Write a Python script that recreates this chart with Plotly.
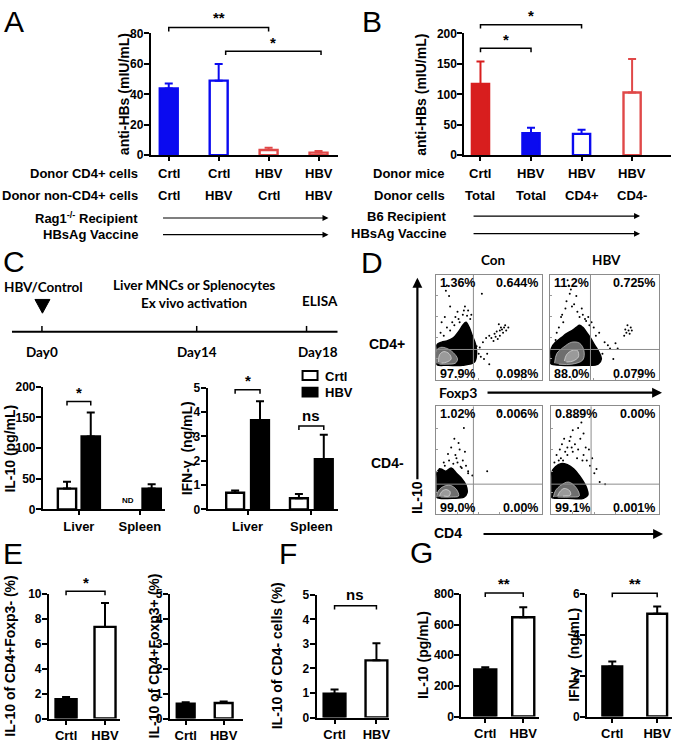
import plotly.graph_objects as go

W, H = 680, 752
ARIAL = 'Liberation Sans, Arial, Helvetica, sans-serif'
CALI = 'Lato, Open Sans, sans-serif'

# ------------------------------------------------------------------ data
A_donor_cd4 = ['Crtl', 'Crtl', 'HBV', 'HBV']
A_donor_noncd4 = ['Crtl', 'HBV', 'Crtl', 'HBV']
A_mean = [43.8, 49.0, 3.4, 1.7]
A_err = [3.3, 11.0, 1.5, 1.1]
A_fill = ['#0a0af0', 'white', 'white', 'white']
A_edge = ['#0a0af0', '#0a0af0', '#e04848', '#e04848']

B_donor_mice = ['Crtl', 'HBV', 'HBV', 'HBV']
B_donor_cells = ['Total', 'Total', 'CD4+', 'CD4-']
B_mean = [117, 36, 35, 103]
B_err = [37, 9, 7, 55]
B_fill = ['#d81e1e', '#0a0af0', 'white', 'white']
B_edge = ['#d81e1e', '#0a0af0', '#0a0af0', '#e04848']

C_groups = ['Liver', 'Spleen']
C_il10_crtl = [34, None]
C_il10_crtl_err = [11, 0]
C_il10_hbv = [119, 34]
C_il10_hbv_err = [39, 7]
C_ifn_crtl = [0.69, 0.46]
C_ifn_crtl_err = [0.09, 0.18]
C_ifn_hbv = [3.67, 2.07]
C_ifn_hbv_err = [0.78, 1.0]

EG_groups = ['Crtl', 'HBV']
E1_mean = [1.55, 7.35]
E1_err = [0.18, 1.92]
E2_mean = [0.59, 0.62]
E2_err = [0.06, 0.06]
F_mean = [0.97, 2.33]
F_err = [0.17, 0.70]
G1_mean = [307, 648]
G1_err = [15, 64]
G2_mean = [2.45, 5.03]
G2_err = [0.24, 0.35]

# flow cytometry quadrant percentages: [UL, UR, LL, LR]
D_pct = [['1.36%', '0.644%', '97.9%', '0.098%'],
         ['11.2%', '0.725%', '88.0%', '0.079%'],
         ['1.02%', '0.006%', '99.0%', '0.00%'],
         ['0.889%', '0.00%', '99.1%', '0.001%']]
D_qx = [0.35, 0.37, 0.35, 0.37]
D_qy = [0.29, 0.29, 0.28, 0.28]

# dense-region outlines (black) and inner contours (grey)
D_blob_x = [
    [0, 0, 0.05, 0.1, 0.16, 0.21, 0.25, 0.28, 0.31, 0.34, 0.37, 0.38, 0.36, 0.25, 0.1, 0],
    [0, 0.01, 0.05, 0.1, 0.15, 0.2, 0.24, 0.27, 0.3, 0.33, 0.37, 0.41, 0.45, 0.47, 0.44, 0.3, 0.1, 0],
    [0, 0, 0.04, 0.09, 0.14, 0.19, 0.24, 0.28, 0.29, 0.26, 0.15, 0.03, 0],
    [0, 0, 0.04, 0.09, 0.15, 0.21, 0.26, 0.3, 0.33, 0.34, 0.3, 0.15, 0.03, 0]]
D_blob_y = [
    [0.15, 0.33, 0.36, 0.37, 0.4, 0.46, 0.52, 0.55, 0.5, 0.42, 0.34, 0.26, 0.17, 0.14, 0.14, 0.15],
    [0.16, 0.3, 0.36, 0.4, 0.44, 0.47, 0.5, 0.52, 0.5, 0.46, 0.4, 0.33, 0.26, 0.2, 0.15, 0.14, 0.14, 0.16],
    [0.16, 0.38, 0.42, 0.4, 0.43, 0.38, 0.33, 0.27, 0.2, 0.16, 0.15, 0.15, 0.16],
    [0.16, 0.38, 0.44, 0.47, 0.46, 0.42, 0.36, 0.3, 0.24, 0.18, 0.15, 0.15, 0.15, 0.16]]
D_cont1_x = [
    [0, 0, 0.04, 0.1, 0.16, 0.2, 0.18, 0.1, 0.03],
    [0.04, 0.06, 0.12, 0.2, 0.27, 0.31, 0.3, 0.2, 0.08],
    [0, 0.02, 0.07, 0.13, 0.19, 0.21, 0.14, 0.04],
    [0.02, 0.04, 0.09, 0.16, 0.23, 0.26, 0.18, 0.06]]
D_cont1_y = [
    [0.16, 0.28, 0.31, 0.3, 0.26, 0.2, 0.16, 0.15, 0.15],
    [0.16, 0.25, 0.31, 0.36, 0.35, 0.28, 0.19, 0.15, 0.15],
    [0.16, 0.22, 0.26, 0.27, 0.23, 0.17, 0.16, 0.16],
    [0.16, 0.22, 0.27, 0.3, 0.25, 0.17, 0.16, 0.16]]
D_cont2_x = [
    [0.02, 0.03, 0.07, 0.12, 0.14, 0.1, 0.05],
    [0.13, 0.15, 0.2, 0.25, 0.26, 0.21, 0.15],
    [0.03, 0.05, 0.09, 0.13, 0.12, 0.07],
    [0.06, 0.08, 0.12, 0.17, 0.18, 0.11]]
D_cont2_y = [
    [0.17, 0.24, 0.27, 0.25, 0.2, 0.17, 0.16],
    [0.18, 0.24, 0.28, 0.28, 0.22, 0.18, 0.17],
    [0.17, 0.21, 0.23, 0.21, 0.17, 0.17],
    [0.17, 0.21, 0.24, 0.22, 0.18, 0.17]]
# sparse events
D_pts_x = [
    [0.05, 0.08, 0.1, 0.12, 0.15, 0.18, 0.2, 0.22, 0.25, 0.27, 0.3, 0.32, 0.28, 0.24, 0.1, 0.09, 0.13, 0.17,
     0.21, 0.26, 0.29, 0.33, 0.36, 0.41, 0.44, 0.47, 0.5, 0.52, 0.55, 0.57, 0.58, 0.6, 0.6, 0.61, 0.62, 0.63,
     0.64, 0.65, 0.66, 0.68, 0.59, 0.56, 0.54, 0.45, 0.4, 0.48, 0.42, 0.38, 0.5, 0.04, 0.07, 0.13, 0.43],
    [0.15, 0.18, 0.17, 0.2, 0.25, 0.3, 0.35, 0.38, 0.4, 0.45, 0.1, 0.12, 0.08, 0.14, 0.22, 0.27, 0.32, 0.36,
     0.42, 0.5, 0.53, 0.55, 0.6, 0.62, 0.68, 0.7, 0.72, 0.74, 0.71, 0.73, 0.69, 0.75, 0.16, 0.19, 0.05, 0.24,
     0.29, 0.33, 0.48, 0.58, 0.06, 0.11],
    [0.05, 0.08, 0.12, 0.15, 0.18, 0.2, 0.22, 0.25, 0.28, 0.3, 0.1, 0.17, 0.26, 0.3, 0.34, 0.14, 0.48, 0.6,
     0.07, 0.19, 0.23, 0.11, 0.03, 0.27, 0.16, 0.21, 0.24],
    [0.05, 0.08, 0.1, 0.12, 0.15, 0.18, 0.2, 0.22, 0.25, 0.28, 0.3, 0.15, 0.2, 0.25, 0.3, 0.33, 0.36, 0.4,
     0.35, 0.23, 0.45, 0.5, 0.07, 0.13, 0.17, 0.27, 0.32, 0.38, 0.42, 0.09, 0.19, 0.24, 0.29, 0.03, 0.11]]
D_pts_y = [
    [0.55, 0.6, 0.5, 0.8, 0.55, 0.6, 0.65, 0.55, 0.62, 0.7, 0.66, 0.58, 0.48, 0.45, 0.9, 0.85, 0.7, 0.52,
     0.58, 0.66, 0.61, 0.62, 0.34, 0.31, 0.36, 0.4, 0.42, 0.4, 0.44, 0.46, 0.39, 0.47, 0.42, 0.5, 0.48, 0.45,
     0.5, 0.52, 0.47, 0.5, 0.53, 0.41, 0.37, 0.2, 0.25, 0.25, 0.22, 0.32, 0.15, 0.45, 0.42, 0.47, 0.82],
    [0.75, 0.82, 0.9, 0.7, 0.65, 0.62, 0.6, 0.55, 0.5, 0.45, 0.6, 0.55, 0.5, 0.68, 0.72, 0.6, 0.58, 0.52,
     0.42, 0.36, 0.33, 0.3, 0.35, 0.3, 0.42, 0.45, 0.47, 0.5, 0.52, 0.44, 0.48, 0.47, 0.95, 0.86, 0.38, 0.8,
     0.68, 0.56, 0.25, 0.2, 0.45, 0.62],
    [0.4, 0.45, 0.5, 0.42, 0.55, 0.48, 0.6, 0.5, 0.45, 0.4, 0.38, 0.7, 0.8, 0.38, 0.36, 0.62, 0.4, 0.95,
     0.48, 0.52, 0.44, 0.56, 0.42, 0.58, 0.47, 0.66, 0.43],
    [0.55, 0.6, 0.65, 0.7, 0.62, 0.72, 0.78, 0.65, 0.8, 0.85, 0.75, 0.55, 0.58, 0.6, 0.55, 0.5, 0.45, 0.38,
     0.6, 0.9, 0.3, 0.28, 0.5, 0.58, 0.68, 0.7, 0.62, 0.52, 0.42, 0.52, 0.62, 0.52, 0.5, 0.48, 0.5]]

# ------------------------------------------------------------------ helpers
fig = go.Figure()
annotations = []
shapes = []
layout = {}

def px(x):
    return x / W

def py(y):
    return 1 - y / H

def bold(size, family=ARIAL, color='black'):
    return dict(family=family, size=size, color=color, weight='bold')

specs = {}

def add_axes(n, name, xl, xr, yt, yb, xrange, yrange, ytickvals=None, xtickvals=None,
             xticktext=None, flow=False):
    xk = 'xaxis' if n == 1 else f'xaxis{n}'
    yk = 'yaxis' if n == 1 else f'yaxis{n}'
    xid = 'x' if n == 1 else f'x{n}'
    yid = 'y' if n == 1 else f'y{n}'
    specs[name] = dict(xl=xl, xr=xr, yt=yt, yb=yb, xrange=xrange, yrange=yrange, x=xid, y=yid)
    if flow:
        common = dict(showline=True, mirror=True, linecolor='#8c8c8c', linewidth=1, ticks='inside',
                      ticklen=2, tickcolor='#9a9a9a', tickwidth=1, showticklabels=False,
                      showgrid=False, zeroline=False, fixedrange=True)
        layout[xk] = dict(domain=[px(xl), px(xr)], range=xrange, anchor=yid,
                          tickvals=[0.2, 0.4, 0.6, 0.8], **common)
        layout[yk] = dict(domain=[py(yb), py(yt)], range=yrange, anchor=xid,
                          tickvals=[0.2, 0.4, 0.6, 0.8], **common)
        return
    common = dict(showline=True, linecolor='black', linewidth=2, ticks='outside',
                  tickwidth=2, tickcolor='black', showgrid=False, zeroline=False, fixedrange=True)
    layout[xk] = dict(domain=[px(xl), px(xr)], range=xrange, anchor=yid, tickvals=xtickvals,
                      ticktext=xticktext, showticklabels=xticktext is not None, ticklen=4,
                      tickfont=bold(13), **common)
    layout[yk] = dict(domain=[py(yb), py(yt)], range=yrange, anchor=xid, tickvals=ytickvals,
                      ticklen=5, tickfont=bold(12), ticklabelstandoff=-2, **common)

def to_paper(name, xv, yv):
    s = specs[name]
    fx = (xv - s['xrange'][0]) / (s['xrange'][1] - s['xrange'][0])
    fy = (yv - s['yrange'][0]) / (s['yrange'][1] - s['yrange'][0])
    xpix = s['xl'] + fx * (s['xr'] - s['xl'])
    ypix = s['yb'] - fy * (s['yb'] - s['yt'])
    return xpix, ypix

def bar(name, xv, yv, err, fill, edge, width, offset=None):
    s = specs[name]
    kw = dict(x=[xv], y=[yv], width=width, xaxis=s['x'], yaxis=s['y'],
              marker=dict(color=fill, line=dict(color=edge, width=2.4)),
              error_y=dict(type='data', symmetric=False, array=[err], arrayminus=[0],
                           color=edge, thickness=2, width=4),
              showlegend=False, hoverinfo='skip')
    if offset is not None:
        kw['offset'] = offset
    fig.add_trace(go.Bar(**kw))

def bracket(name, x0, x1, yv, label, size=15, drop=4, gap=8):
    a, yy = to_paper(name, x0, yv)
    b, _ = to_paper(name, x1, yv)
    path = (f'M {px(a)},{py(yy + drop)} L {px(a)},{py(yy)} L {px(b)},{py(yy)} '
            f'L {px(b)},{py(yy + drop)}')
    shapes.append(dict(type='path', xref='paper', yref='paper', path=path,
                       line=dict(color='black', width=1.5)))
    annotations.append(dict(x=px((a + b) / 2), y=py(yy - gap), xref='paper', yref='paper',
                            text=label, showarrow=False, font=bold(size), xanchor='center',
                            yanchor='middle'))

def text(x, y, t, size=13, xanchor='center', font=None, angle=0, yanchor='middle'):
    annotations.append(dict(x=px(x), y=py(y), xref='paper', yref='paper', text=t,
                            showarrow=False, font=font or bold(size), xanchor=xanchor,
                            yanchor=yanchor, textangle=angle))

def ytitle(x, y, t, size=14):
    text(x, y, t, font=bold(size), angle=-90)

def arrow(x0, y0, x1, y1, width=1.2, head=2, size=1.0):
    annotations.append(dict(x=px(x1), y=py(y1), xref='paper', yref='paper', ax=x0 - x1,
                            ay=y0 - y1, axref='pixel', ayref='pixel', text='', showarrow=True,
                            arrowhead=head, arrowsize=size, arrowwidth=width, arrowcolor='black'))

def line(x0, y0, x1, y1, width=2, color='black'):
    shapes.append(dict(type='line', xref='paper', yref='paper', x0=px(x0), y0=py(y0),
                       x1=px(x1), y1=py(y1), line=dict(color=color, width=width)))

# ------------------------------------------------------------------ panel A
add_axes(1, 'A', 151, 338, 27, 151, [-0.36, 3.38], [0, 80], ytickvals=[0, 20, 40, 60, 80],
         xtickvals=[0, 1, 2, 3])
for i in range(4):
    bar('A', i, A_mean[i], A_err[i], A_fill[i], A_edge[i], 0.36)
bracket('A', 0, 2, 83.9, '**', gap=10)
bracket('A', 1.14, 3.05, 68.4, '*', gap=9)
text(140, 170, 'Donor CD4+ cells', xanchor='right')
text(140, 192, 'Donor non-CD4+ cells', xanchor='right')
for i in range(4):
    cx, _ = to_paper('A', i, 0)
    text(cx, 170, A_donor_cd4[i])
    text(cx, 192, A_donor_noncd4[i])
text(140, 215, 'Rag1<sup>-/-</sup> Recipient', xanchor='right')
text(140, 232, 'HBsAg Vaccine', xanchor='right')
arrow(162, 215, 329, 215)
arrow(162, 232, 329, 232)
ytitle(125, 89, 'anti-HBs (mIU/mL)')

# ------------------------------------------------------------------ panel B
add_axes(2, 'B', 465, 672, 27, 151, [-0.32, 3.77], [0, 200], ytickvals=[0, 50, 100, 150, 200],
         xtickvals=[0, 1, 2, 3])
for i in range(4):
    bar('B', i, B_mean[i], B_err[i], B_fill[i], B_edge[i], 0.34)
bracket('B', 0, 2, 214.5, '*', gap=9)
bracket('B', 0, 1, 175.8, '*', gap=9)
text(448, 170, 'Donor mice', xanchor='right')
text(448, 192, 'Donor cells', xanchor='right')
for i in range(4):
    cx, _ = to_paper('B', i, 0)
    text(cx, 170, B_donor_mice[i])
    text(cx, 192, B_donor_cells[i])
text(449, 213, 'B6 Recipient', xanchor='right')
text(449, 231, 'HBsAg Vaccine', xanchor='right')
arrow(473, 213, 641, 213)
arrow(473, 231, 641, 231)
ytitle(422, 89, 'anti-HBs (mIU/mL)')

# ------------------------------------------------------------------ panel C timeline
line(12, 331, 338, 331, width=2)
for tx in (42, 197, 307):
    line(tx, 325, tx, 331, width=1.5)
tri = f'M {px(35)},{py(298)} L {px(50)},{py(298)} L {px(42.5)},{py(312)} Z'
shapes.append(dict(type='path', xref='paper', yref='paper', path=tri, fillcolor='black',
                   line=dict(color='black', width=1)))
text(44, 285, 'HBV/Control', font=bold(13.5, CALI))
text(194, 283, 'Liver MNCs or Splenocytes', font=bold(13.5, CALI))
text(194, 302, 'Ex vivo activation', font=bold(13.5, CALI))
text(320, 300, 'ELISA', font=bold(13.5, CALI))
text(42, 352, 'Day0', font=bold(13.5, CALI))
text(197, 352, 'Day14', font=bold(13.5, CALI))
text(318, 352, 'Day18', font=bold(13.5, CALI))

# ------------------------------------------------------------------ panel C bars
add_axes(3, 'C1', 43, 165, 387, 512, [-0.59, 1.41], [0, 200], ytickvals=[0, 50, 100, 150, 200],
         xtickvals=[0, 1], xticktext=C_groups)
add_axes(4, 'C2', 208, 338, 388, 512, [-0.625, 1.41], [0, 5], ytickvals=[0, 1, 2, 3, 4, 5],
         xtickvals=[0, 1], xticktext=C_groups)
for i in range(2):
    if C_il10_crtl[i] is not None:
        bar('C1', i, C_il10_crtl[i], C_il10_crtl_err[i], 'white', 'black', 0.3, offset=-0.345)
    bar('C1', i, C_il10_hbv[i], C_il10_hbv_err[i], 'black', 'black', 0.3, offset=0.045)
    bar('C2', i, C_ifn_crtl[i], C_ifn_crtl_err[i], 'white', 'black', 0.28, offset=-0.335)
    bar('C2', i, C_ifn_hbv[i], C_ifn_hbv_err[i], 'black', 'black', 0.28, offset=0.055)
bracket('C1', -0.195, 0.195, 176, '*', gap=9)
bracket('C2', -0.195, 0.195, 4.92, '*', gap=9)
bracket('C2', 0.805, 1.195, 3.43, 'ns', gap=11)
cx, _ = to_paper('C1', 0.805, 0)
text(cx, 503, 'ND', font=bold(8))
ytitle(10, 450, 'IL-10 (pg/mL)')
ytitle(187, 450, 'IFN-\u03b3  (ng/mL)')
shapes.append(dict(type='rect', xref='paper', yref='paper', x0=px(303), x1=px(318),
                   y0=py(380), y1=py(371), fillcolor='white', line=dict(color='black', width=2)))
shapes.append(dict(type='rect', xref='paper', yref='paper', x0=px(303), x1=px(318),
                   y0=py(397), y1=py(388), fillcolor='black', line=dict(color='black', width=2)))
text(323, 376, 'Crtl', xanchor='left')
text(323, 393, 'HBV', xanchor='left')

# ------------------------------------------------------------------ panel D flow plots
D_boxes = [(437, 543, 273, 380), (551, 660, 273, 380), (437, 543, 407, 517), (552, 660, 407, 517)]
for k, (xl, xr, yt, yb) in enumerate(D_boxes):
    name = f'D{k}'
    add_axes(5 + k, name, xl, xr, yt, yb, [0, 1], [0, 1], flow=True)
    s = specs[name]
    fig.add_trace(go.Scatter(x=D_pts_x[k], y=D_pts_y[k], mode='markers',
                             marker=dict(color='black', size=2),
                             xaxis=s['x'], yaxis=s['y'], showlegend=False, hoverinfo='skip'))
    fig.add_trace(go.Scatter(x=D_blob_x[k], y=D_blob_y[k], mode='lines', fill='toself',
                             fillcolor='black', line=dict(color='black', width=1.5, shape='spline'),
                             xaxis=s['x'], yaxis=s['y'], showlegend=False, hoverinfo='skip'))
    fig.add_trace(go.Scatter(x=D_cont1_x[k], y=D_cont1_y[k], mode='lines', fill='toself',
                             fillcolor='#6e6e6e', line=dict(color='#cfcfcf', width=0.7, shape='spline'),
                             xaxis=s['x'], yaxis=s['y'], showlegend=False, hoverinfo='skip'))
    fig.add_trace(go.Scatter(x=D_cont2_x[k], y=D_cont2_y[k], mode='lines', fill='toself',
                             fillcolor='#9a9a9a', line=dict(color='#e0e0e0', width=0.7, shape='spline'),
                             xaxis=s['x'], yaxis=s['y'], showlegend=False, hoverinfo='skip'))
    qx = xl + D_qx[k] * (xr - xl)
    qy = yb - D_qy[k] * (yb - yt)
    line(qx, yt, qx, yb, width=1, color='#8c8c8c')
    line(xl, qy, xr, qy, width=1, color='#8c8c8c')
    ul, ur, ll, lr = D_pct[k]
    text(xl + 2, yt + 8, ul, font=bold(12.5), xanchor='left')
    text(xr - 2, yt + 8, ur, font=bold(12.5), xanchor='right')
    text(xl + 2, yb - 6, ll, font=bold(12.5), xanchor='left')
    text(xr - 2, yb - 6, lr, font=bold(12.5), xanchor='right')

text(494, 258, 'Con', font=bold(13.5, CALI))
text(607, 258, 'HBV', font=bold(13.5, CALI))
text(388, 343, 'CD4+', font=bold(14))
text(388, 465, 'CD4-', font=bold(14))
text(459, 393, 'Foxp3', font=bold(14, CALI))
arrow(487, 393, 663, 393, width=2.2, size=0.9)
arrow(418, 479, 418, 276, width=2.2, size=0.9)
text(417, 500, 'IL-10', font=bold(14), angle=-90)
text(449, 536, 'CD4', font=bold(14))
arrow(483, 537, 664, 537, width=2.2, size=0.9)

# ------------------------------------------------------------------ panels E, F, G
add_axes(9, 'E1', 49, 120, 598, 725, [-0.44, 1.38], [0, 10], ytickvals=[0, 2, 4, 6, 8, 10],
         xtickvals=[0, 1], xticktext=EG_groups)
add_axes(10, 'E2', 170, 243, 598, 725, [-0.42, 1.5], [0, 5], ytickvals=[0, 1, 2, 3, 4, 5],
         xtickvals=[0, 1], xticktext=EG_groups)
add_axes(11, 'F', 317, 390, 599, 724, [-0.43, 1.31], [0, 5], ytickvals=[0, 1, 2, 3, 4, 5],
         xtickvals=[0, 1], xticktext=EG_groups)
add_axes(12, 'G1', 462, 540, 598, 723, [-0.63, 1.42], [0, 800], ytickvals=[0, 200, 400, 600, 800],
         xtickvals=[0, 1], xticktext=EG_groups)
add_axes(13, 'G2', 588, 673, 598, 723, [-0.56, 1.33], [0, 6], ytickvals=[0, 2, 4, 6],
         xtickvals=[0, 1], xticktext=EG_groups)
for name, mean, err, w in (('E1', E1_mean, E1_err, 0.54), ('E2', E2_mean, E2_err, 0.47),
                           ('F', F_mean, F_err, 0.52), ('G1', G1_mean, G1_err, 0.58),
                           ('G2', G2_mean, G2_err, 0.44)):
    bar(name, 0, mean[0], err[0], 'black', 'black', w)
    bar(name, 1, mean[1], err[1], 'white', 'black', w)
bracket('E1', 0, 1, 10.2, '*', gap=9)
bracket('F', 0, 1, 4.56, 'ns', gap=11)
bracket('G1', 0, 1, 805, '**', gap=10)
bracket('G2', 0, 1, 6.03, '**', gap=10)
ytitle(10, 661, 'IL-10 of CD4+Foxp3- (%)')
ytitle(154, 661, 'IL-10 of CD4+Foxp3+ (%)')
ytitle(277, 661, 'IL-10 of CD4- cells (%)')
ytitle(423, 660, 'IL-10 (pg/mL)')
ytitle(575, 660, 'IFN-\u03b3  (ng/mL)')

# ------------------------------------------------------------------ panel letters
LET = dict(family=ARIAL, size=30, color='black')
for ch, x, y in (('A', 14, 15), ('B', 373, 15), ('C', 14, 259), ('D', 373, 260),
                 ('E', 13, 557), ('F', 288, 557), ('G', 422, 556)):
    text(x, y, ch, font=LET)

fig.update_layout(
    width=W, height=H, margin=dict(l=0, r=0, t=0, b=0), autosize=False,
    paper_bgcolor='white', plot_bgcolor='rgba(0,0,0,0)', showlegend=False,
    barmode='overlay', annotations=annotations, shapes=shapes, **layout)

fig.write_html('out.html', config={'displayModeBar': False, 'staticPlot': True},
               post_script="document.body.style.margin='0';"
               "document.body.style.padding='0';document.body.style.overflow='hidden';")
